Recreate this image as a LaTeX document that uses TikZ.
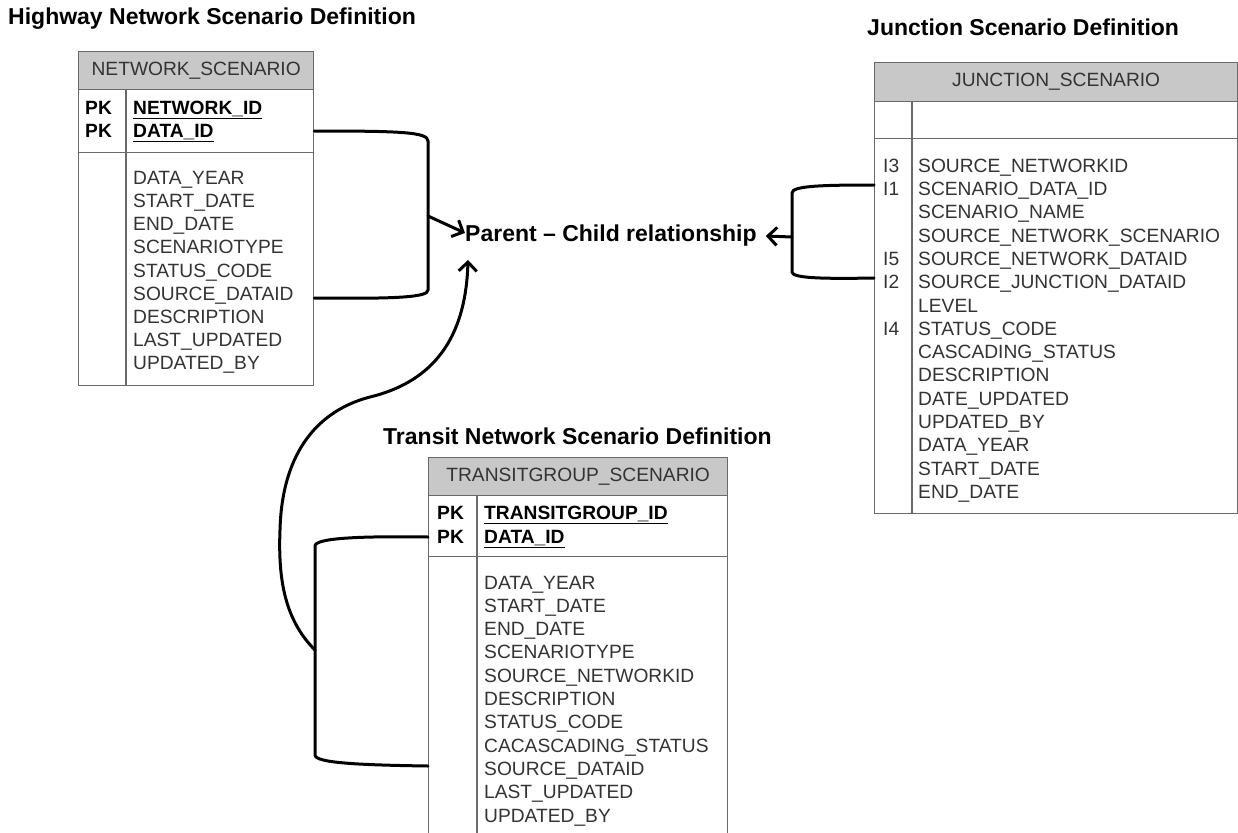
\documentclass[tikz,border=0pt]{standalone}
\usepackage{fontspec}
\setmainfont{Liberation Sans}
\usetikzlibrary{arrows.meta}

\definecolor{tabline}{HTML}{6A6A6A}
\definecolor{headgray}{HTML}{C8C8C8}
\definecolor{rowtext}{HTML}{333333}
\newcommand{\erdrowfont}{\fontsize{19.2}{23}\selectfont}
\newcommand{\erdtitlefont}{\fontsize{23}{27}\selectfont\bfseries}

\begin{document}
\begin{tikzpicture}[x=1pt,y=1pt,
  tabhead/.style={draw=tabline, fill=headgray, line width=1.3pt, anchor=north west,
    minimum height=38pt, font=\erdrowfont, text=rowtext},
  tabpart/.style={draw=tabline, line width=1.3pt, anchor=north west},
  fld/.style={anchor=west, font=\erdrowfont, text=rowtext, text height=13.7pt, text depth=0pt},
  keyfld/.style={fld, font=\erdrowfont\bfseries, text=black},
  heading/.style={anchor=west, font=\erdtitlefont},
  link/.style={line width=3pt, line cap=round, line join=round},
  linkarrow/.style={link, -{Straight Barb[length=9pt,width=18pt]}}]
\tikzstyle{every node}+=[inner sep=0pt]
\fill [white] (0,0) rectangle (1238,-832);
\useasboundingbox (0,0) rectangle (1238,-832);
\clip (0,0) rectangle (1238,-832);
% highway network table
\node [heading] (nstitle) at (8,-19) {Highway Network Scenario Definition};
\node [tabhead, minimum width=235pt] (ns) at (78,-51) {NETWORK\_SCENARIO};
\node [tabpart, minimum width=235pt, minimum height=63pt] (nskey) at (78,-89) {};
\node [tabpart, minimum width=235pt, minimum height=233pt] (nsbody) at (78,-152) {};
\draw [tabline, line width=1.3pt] ([xshift=48pt]nskey.north west) -- ([xshift=48pt]nsbody.south west);
\node [keyfld] (nspk1) at (85,-108) {PK};
\node [keyfld] (nspk2) at (85,-131) {PK};
\node [keyfld] (nsnid) at (133,-108) {\underline{NETWORK\_ID}};
\node [keyfld] (nsdid) at (133,-131) {\underline{DATA\_ID}};
\node [fld] (nsyear) at (133,-178) {DATA\_YEAR};
\node [fld] (nsstart) at (133,-201) {START\_DATE};
\node [fld] (nsend) at (133,-224) {END\_DATE};
\node [fld] (nstype) at (133,-247) {SCENARIOTYPE};
\node [fld] (nsstatus) at (133,-271) {STATUS\_CODE};
\node [fld] (nssrc) at (133,-294) {SOURCE\_DATAID};
\node [fld] (nsdesc) at (133,-317) {DESCRIPTION};
\node [fld] (nslast) at (133,-340) {LAST\_UPDATED};
\node [fld] (nsby) at (133,-363) {UPDATED\_BY};
% junction table
\node [heading] (jstitle) at (867,-27) {Junction Scenario Definition};
\node [tabhead, minimum width=363pt, minimum height=39pt] (js) at (874,-62) {JUNCTION\_SCENARIO};
\node [tabpart, minimum width=363pt, minimum height=37pt] (jskey) at (874,-101) {};
\node [tabpart, minimum width=363pt, minimum height=375pt] (jsbody) at (874,-138) {};
\draw [tabline, line width=1.3pt] ([xshift=38pt]jskey.north west) -- ([xshift=38pt]jsbody.south west);
\node [fld] (jsi3) at (883,-166) {I3};
\node [fld] (jsi1) at (883,-189) {I1};
\node [fld] (jsi5) at (883,-259) {I5};
\node [fld] (jsi2) at (883,-282) {I2};
\node [fld] (jsi4) at (883,-329) {I4};
\node [fld] (jsnet) at (918,-166) {SOURCE\_NETWORKID};
\node [fld] (jsdid) at (918,-189) {SCENARIO\_DATA\_ID};
\node [fld] (jsname) at (918,-212) {SCENARIO\_NAME};
\node [fld] (jsnsc) at (918,-236) {SOURCE\_NETWORK\_SCENARIO};
\node [fld] (jsndid) at (918,-259) {SOURCE\_NETWORK\_DATAID};
\node [fld] (jsjdid) at (918,-282) {SOURCE\_JUNCTION\_DATAID};
\node [fld] (jslevel) at (918,-306) {LEVEL};
\node [fld] (jsstatus) at (918,-329) {STATUS\_CODE};
\node [fld] (jscasc) at (918,-352) {CASCADING\_STATUS};
\node [fld] (jsdesc) at (918,-375) {DESCRIPTION};
\node [fld] (jsdate) at (918,-399) {DATE\_UPDATED};
\node [fld] (jsby) at (918,-422) {UPDATED\_BY};
\node [fld] (jsyear) at (918,-445) {DATA\_YEAR};
\node [fld] (jsstart) at (918,-469) {START\_DATE};
\node [fld] (jsend) at (918,-492) {END\_DATE};
% transit table
\node [heading] (tstitle) at (383,-436) {Transit Network Scenario Definition};
\node [tabhead, minimum width=299pt] (ts) at (428,-457) {TRANSITGROUP\_SCENARIO};
\node [tabpart, minimum width=299pt, minimum height=61pt] (tskey) at (428,-495) {};
\node [tabpart, minimum width=299pt, minimum height=300pt] (tsbody) at (428,-556) {};
\draw [tabline, line width=1.3pt] ([xshift=49pt]tskey.north west) -- ([xshift=49pt]tsbody.south west);
\node [keyfld] (tspk1) at (437,-513) {PK};
\node [keyfld] (tspk2) at (437,-537) {PK};
\node [keyfld] (tsgid) at (484,-513) {\underline{TRANSITGROUP\_ID}};
\node [keyfld] (tsdid) at (484,-537) {\underline{DATA\_ID}};
\node [fld] (tsyear) at (484,-583) {DATA\_YEAR};
\node [fld] (tsstart) at (484,-606) {START\_DATE};
\node [fld] (tsend) at (484,-629) {END\_DATE};
\node [fld] (tstype) at (484,-652) {SCENARIOTYPE};
\node [fld] (tsnet) at (484,-676) {SOURCE\_NETWORKID};
\node [fld] (tsdesc) at (484,-699) {DESCRIPTION};
\node [fld] (tsstatus) at (484,-722) {STATUS\_CODE};
\node [fld] (tscasc) at (484,-746) {CACASCADING\_STATUS};
\node [fld] (tssrc) at (484,-769) {SOURCE\_DATAID};
\node [fld] (tslast) at (484,-792) {LAST\_UPDATED};
\node [fld] (tsby) at (484,-816) {UPDATED\_BY};
% relationship label and links
\node [anchor=west, font=\erdtitlefont] (rel) at (465,-236) {Parent -- Child relationship};
\coordinate (nsjoin) at (428,-216);
\coordinate (jsjoin) at (792,-237);
\coordinate (tsjoin) at (315,-650);
\draw [link] (nsbody.east |- nsdid.west) .. controls (400,-131) and (428,-132) .. (428,-141) -- (428,-290) .. controls (428,-297) and (400,-299) .. ([yshift=-4pt]nsbody.east |- nssrc.west);
\draw [linkarrow] (nsjoin) -- ([yshift=3pt]rel.west);
\draw [link] ([yshift=4pt]jsbody.west |- jsi1.west) .. controls (820,-185) and (792,-186) .. (792,-193) -- (792,-272) .. controls (792,-278) and (820,-279) .. ([yshift=4pt]jsbody.west |- jsi2.west);
\draw [linkarrow] (jsjoin) -- ([xshift=9pt]rel.east);
\draw [link] (tsbody.west |- tsdid.east) .. controls (360,-536) and (315,-538) .. (315,-546) -- (315,-755) .. controls (315,-763) and (360,-765) .. ([yshift=3pt]tsbody.west |- tssrc.east);
\draw [linkarrow] (tsjoin) .. controls (285,-620) and (278,-580) .. (280,-530) .. controls (282,-450) and (320,-410) .. (370,-397) .. controls (440,-380) and (466,-330) .. ([xshift=3pt,yshift=-24pt]rel.west);
\end{tikzpicture}
\end{document}
